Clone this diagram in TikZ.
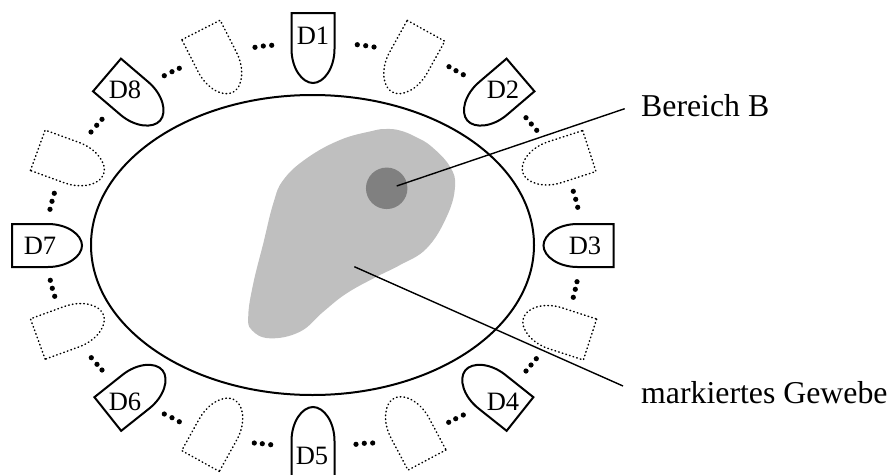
\documentclass[tikz,border=0pt]{standalone}
\usepackage{fontspec}
\setmainfont{Liberation Serif}
\tikzset{
  tooth/.pic={\path[pic actions] (-21.5,0) -- (21.5,0) -- (21.5,36) .. controls (21.5,55) and (11,70) .. (0,70) .. controls (-11,70) and (-21.5,55) .. (-21.5,36) -- cycle;},
  solidtooth/.style={draw=black,line width=2pt,line join=miter},
  dottedtooth/.style={draw=black,line width=1.5pt,line cap=round,dash pattern=on 0.6pt off 3.2pt},
  dlabel/.style={anchor=base,inner sep=0pt,font=\fontsize{26.5}{30}\selectfont},
  callout/.style={anchor=base west,inner sep=0pt,font=\fontsize{31.8}{36}\selectfont},
  leader/.style={draw=black,line width=1.4pt},
  dotdot/.style={fill=black,draw=none}
}
\begin{document}
\begin{tikzpicture}[x=1pt,y=-1pt]
\useasboundingbox (0,0) rectangle (893,474);
\clip (0,0) rectangle (893,474);
% gray tissue
\fill[fill={rgb,255:red,191;green,191;blue,191}] plot[smooth cycle,tension=0.7] coordinates {
 (372,131) (386,129) (400,130.5) (416,137) (432,147) (450,166.7) (455,186.7) (446.7,216.7) (426.7,248.3)
 (400,265) (376.7,276.7) (346.7,293.3) (323.3,311.7) (300,331.7) (270,338.3) (251.7,330)
 (248.3,315) (253.3,283.3) (263.3,243.3) (273.3,203.3) (283.3,180) (306.7,158.3) (340,140)};
\node[circle,fill={rgb,255:red,128;green,128;blue,128},draw=none,minimum size=41.5pt,inner sep=0pt] (B) at (386.7,188.3) {};
% outline
\draw[line width=2pt] (312.5,245) ellipse [x radius=221.5, y radius=150];
% labelled probes
\path (313,13)     pic[solidtooth,rotate=0] {tooth};
\path (520.5,75)   pic[solidtooth,rotate=-49.5] {tooth};
\path (613.5,245.5) pic[solidtooth,rotate=-90] {tooth};
\path (520,414)    pic[solidtooth,rotate=-128.5] {tooth};
\path (313,477)    pic[solidtooth,rotate=180] {tooth};
\path (107.8,414)  pic[solidtooth,rotate=128.5] {tooth};
\path (12,245.5)   pic[solidtooth,rotate=90] {tooth};
\path (107,75)     pic[solidtooth,rotate=49.5] {tooth};
% dotted probes
\path (201,30)     pic[dottedtooth,rotate=27] {tooth};
\path (426,30.8)   pic[dottedtooth,rotate=-29] {tooth};
\path (589.3,151)  pic[dottedtooth,rotate=-72] {tooth};
\path (37.8,150.3) pic[dottedtooth,rotate=70] {tooth};
\path (37.8,339)   pic[dottedtooth,rotate=110] {tooth};
\path (590,339.5)  pic[dottedtooth,rotate=-108] {tooth};
\path (200.5,461)  pic[dottedtooth,rotate=151] {tooth};
\path (427,460)    pic[dottedtooth,rotate=-152] {tooth};
% dots
\foreach \x/\y in {
 255/47.3, 263.3/46, 271.7/45.3,
 164.3/75.7, 172/71.7, 179.3/68.3,
 91/132, 96.7/125.3, 102/119.3,
 54.3/193.3, 52/201.3, 50/209.3,
 357.3/44.7, 365.7/45.7, 374/47,
 449/66.7, 456/70.7, 463.3/74.7,
 526/117.7, 531.3/124, 536.7/130.3,
 573.3/191.3, 575.7/199.3, 577.7/207.3,
 50.3/280.3, 52.3/288.3, 54.7/296.3,
 91.3/357.7, 97/364.3, 102/370,
 164.3/414, 172/417.7, 179.3/421.7,
 254.3/443, 262.3/443.7, 270.7/444.7,
 577/281.7, 575.3/289.3, 573.3/297.3,
 536.3/358.7, 531/365, 526/371,
 463.3/415, 455.7/418.7, 448.7/422.3,
 356/444.3, 364.3/443.3, 372.7/443}
  \fill[dotdot] (\x,\y) circle (2.6);
% leaders
\coordinate (bstart) at (396.7,186);
\coordinate (bend) at (624.7,108.7);
\coordinate (mstart) at (354.3,266.7);
\coordinate (mend) at (623,386);
\draw[leader] (bstart) -- (bend);
\draw[leader] (mstart) -- (mend);
% labels
\node[dlabel] (D1) at (313,44) {D1};
\node[dlabel] (D2) at (503,98) {D2};
\node[dlabel] (D3) at (585,254) {D3};
\node[dlabel] (D4) at (503,410) {D4};
\node[dlabel] (D5) at (312,464) {D5};
\node[dlabel] (D6) at (125,410.5) {D6};
\node[dlabel] (D7) at (40,254.5) {D7};
\node[dlabel] (D8) at (125,98) {D8};
\node[callout] (lb) at (641,116.7) {Bereich B};
\node[callout] (lm) at (641,403.3) {markiertes Gewebe};
\end{tikzpicture}
\end{document}
